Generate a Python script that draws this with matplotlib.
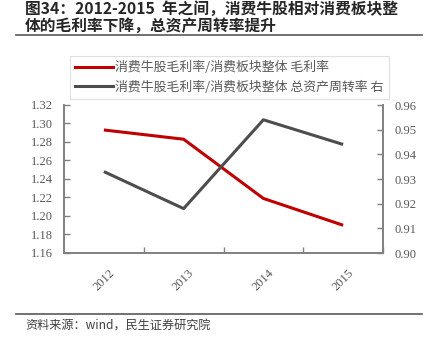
import numpy as np
import matplotlib.pyplot as plt
from matplotlib.lines import Line2D

plt.rcParams['font.family'] = ['Noto Sans CJK SC', 'DejaVu Sans']

years = ["2012", "2013", "2014", "2015"]
gross_margin = [1.293, 1.283, 1.219, 1.190]
asset_turnover = [0.933, 0.918, 0.954, 0.944]

left_ticks = [1.16, 1.18, 1.20, 1.22, 1.24, 1.26, 1.28, 1.30, 1.32]
right_ticks = [0.90, 0.91, 0.92, 0.93, 0.94, 0.95, 0.96]

W, H = 434, 351
fig = plt.figure(figsize=(W / 100, H / 100), dpi=100)

# title + rules
fig.text(25 / W, 1 - 1 / H, "图34：2012-2015  年之间，消费牛股相对消费板块整\n体的毛利率下降，总资产周转率提升",
         ha="left", va="top", fontsize=11.3, fontweight="bold", color="#262626", linespacing=1.08)
fig.add_artist(Line2D([16 / W, 422 / W], [1 - 35 / H] * 2, color="#595959", lw=1.2))
fig.add_artist(Line2D([16 / W, 422 / W], [1 - 314 / H] * 2, color="#595959", lw=1.2))
fig.text(25 / W, 1 - 326 / H, "资料来源：wind，民生证券研究院", ha="left", va="center",
         fontsize=8.7, color="#404040")

ax = fig.add_axes([64 / W, 1 - 253 / H, (383 - 64) / W, (253 - 105) / H])
ax2 = ax.twinx()

x = np.arange(len(years))
ax.plot(x, gross_margin, color="#c00000", lw=2.2, solid_capstyle="butt")
ax2.plot(x, asset_turnover, color="#4d4d4d", lw=2.2, solid_capstyle="butt")

ax.set_xlim(-0.5, 3.5)
ax.set_ylim(1.16, 1.32)
ax2.set_ylim(0.90, 0.96)

serif = "Liberation Serif"
gray = "#595959"
ax.set_yticks(left_ticks)
ax.set_yticklabels([f"{v:.2f}" for v in left_ticks], family=serif, fontsize=9, color=gray)
ax2.set_yticks(right_ticks)
ax2.set_yticklabels([f"{v:.2f}" for v in right_ticks], family=serif, fontsize=9, color=gray)

ax.set_xticks([0.5, 1.5, 2.5, 3.5])
ax.set_xticklabels([])
ax.set_xticks(x, minor=True)
ax.set_xticklabels(years, minor=True, rotation=45, family=serif, fontsize=9, color=gray)
ax.tick_params(axis="x", which="major", direction="in", length=4, color="#808080", width=1)
ax.tick_params(axis="x", which="minor", length=0, pad=10)
ax.tick_params(axis="y", direction="in", length=4, color="#808080", width=1, pad=8)
ax2.tick_params(axis="y", direction="in", length=4, color="#808080", width=1, pad=8)

for a in (ax, ax2):
    a.spines["top"].set_visible(False)
    for s in ("left", "right", "bottom"):
        a.spines[s].set_color("#808080")
        a.spines[s].set_linewidth(1.2)

handles = [Line2D([], [], color="#c00000", lw=2.2),
           Line2D([], [], color="#4d4d4d", lw=2.2)]
labels = ["消费牛股毛利率/消费板块整体 毛利率", "消费牛股毛利率/消费板块整体 总资产周转率 右"]
leg = fig.legend(handles, labels, loc="upper left", bbox_to_anchor=(70 / W, 1 - 56 / H),
                 frameon=True, fancybox=False, fontsize=9.3, handlelength=2.9,
                 handletextpad=0.2, borderpad=0.4, labelspacing=0.5, borderaxespad=0)
leg.get_frame().set_edgecolor("#d9d9d9")
leg.get_frame().set_linewidth(0.8)
for t in leg.get_texts():
    t.set_color(gray)

fig.savefig("out.png", dpi=100)
